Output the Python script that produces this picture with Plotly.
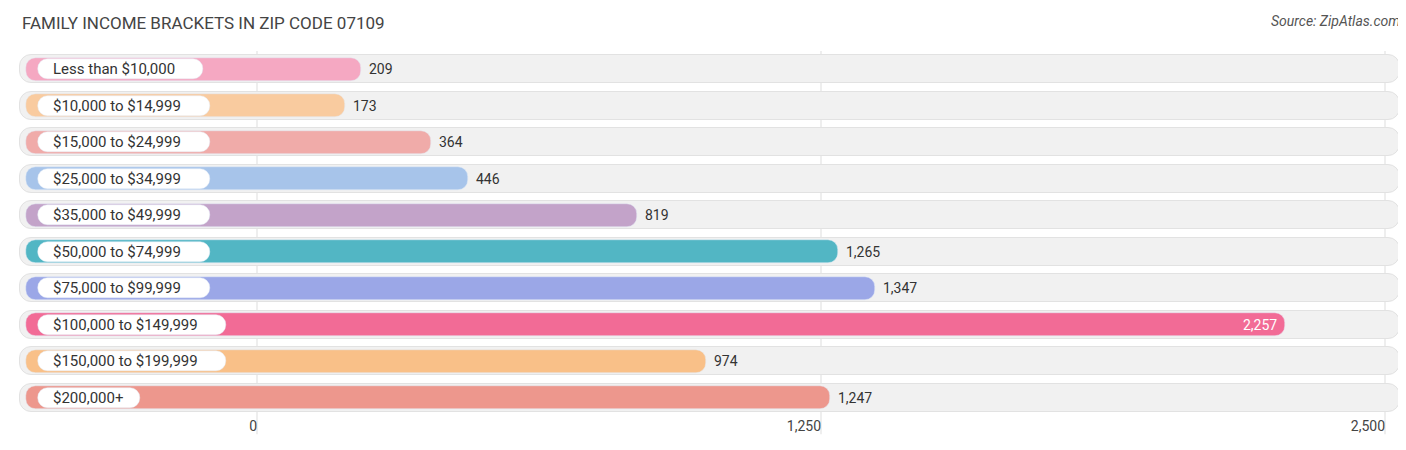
import plotly.graph_objects as go

categories = ["Less than $10,000", "$10,000 to $14,999", "$15,000 to $24,999",
              "$25,000 to $34,999", "$35,000 to $49,999", "$50,000 to $74,999",
              "$75,000 to $99,999", "$100,000 to $149,999", "$150,000 to $199,999",
              "$200,000+"]
values = [209, 173, 364, 446, 819, 1265, 1347, 2257, 974, 1247]
colors = ["#f5a8c2", "#f9cb9f", "#f0aba9", "#a7c4ea", "#c3a3c9", "#52b6c4",
          "#9ba7e7", "#f26b96", "#f9c088", "#ed978d"]
tick_vals = [0, 1250, 2500]
tick_text = ["0", "1,250", "2,500"]

PX = 1250 / 564.0          # value units per pixel
X0 = -249 * PX             # value at left page edge
X1 = X0 + 1406 * PX
def px(p):
    return X0 + p * PX

bar_base = px(18)
fig = go.Figure()

# background tracks
fig.add_trace(go.Bar(y=categories, x=[px(1392) - px(12)] * len(categories),
                     base=px(12), orientation="h", width=0.78,
                     marker=dict(color="#f1f1f1", line=dict(color="#e2e2e2", width=1),
                                 cornerradius=12),
                     hoverinfo="skip", showlegend=False))
# value bars
fig.add_trace(go.Bar(y=categories, x=[v - bar_base + 10 * PX for v in values],
                     base=bar_base, orientation="h", width=0.62,
                     marker=dict(color=colors, cornerradius=10),
                     hoverinfo="skip", showlegend=False))
# label pills
pill_w = [(len(c) * 7.8 + 32) * PX for c in categories]
fig.add_trace(go.Bar(y=categories, x=pill_w, base=px(30), orientation="h", width=0.56,
                     marker=dict(color="white", cornerradius=10),
                     hoverinfo="skip", showlegend=False))

ann = []
for c, v in zip(categories, values):
    ann.append(dict(x=px(43), y=c, text=c, showarrow=False, xanchor="left",
                    font=dict(size=15, color="#333")))
    end = v + 10 * PX
    if v > 2000:
        ann.append(dict(x=end - 6 * PX, y=c, text=f"{v:,}", showarrow=False,
                        xanchor="right", font=dict(size=14, color="white")))
    else:
        ann.append(dict(x=end + 6 * PX, y=c, text=f"{v:,}", showarrow=False,
                        xanchor="left", font=dict(size=14, color="#333")))
ann.append(dict(x=px(12), y=1, xref="x", yref="paper", yshift=40, xanchor="left",
                yanchor="top", text="FAMILY INCOME BRACKETS IN ZIP CODE 07109",
                showarrow=False, font=dict(size=17, color="#444")))
ann.append(dict(x=px(1394), y=1, xref="x", yref="paper", yshift=40, xanchor="right",
                yanchor="top", text="<i>Source: ZipAtlas.com</i>", showarrow=False,
                font=dict(size=14, color="#555")))

shapes = [dict(type="line", x0=t, x1=t, y0=-0.05, y1=1.0, xref="x", yref="paper",
               line=dict(color="#dddddd", width=1), layer="below") for t in tick_vals]

fig.update_layout(
    width=1406, height=450, barmode="overlay",
    margin=dict(l=0, r=0, t=43, b=42, autoexpand=False),
    paper_bgcolor="white", plot_bgcolor="white",
    font=dict(family="Roboto, sans-serif"),
    xaxis=dict(range=[X0, X1], tickvals=tick_vals, ticktext=tick_text,
               showgrid=False, zeroline=False, tickfont=dict(size=14, color="#444"),
               automargin=False, ticklabelposition="outside left"),
    yaxis=dict(showticklabels=False, showgrid=False, range=[9.5, -0.5],
               automargin=False),
    annotations=ann, shapes=shapes, bargap=0,
)
fig.write_html("out.html")
